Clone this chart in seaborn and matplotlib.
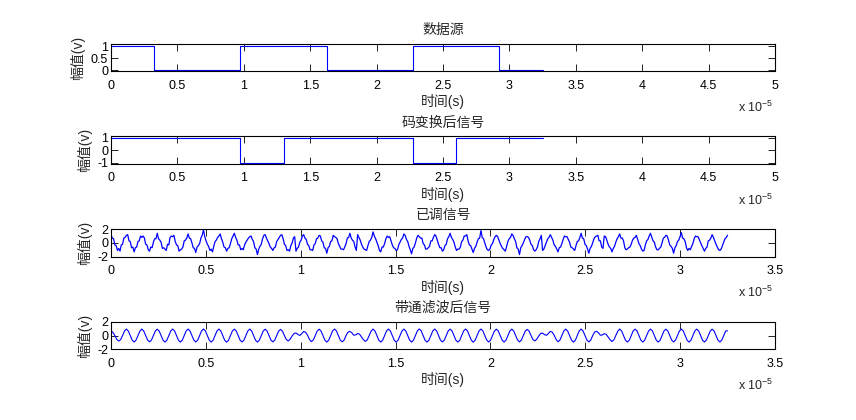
import numpy as np
import matplotlib
matplotlib.use('Agg')
import matplotlib.pyplot as plt
import seaborn as sns
from matplotlib.ticker import FormatStrFormatter

# time axis in units of 1e-5 s
bit_edges = [0, 0.325, 0.65, 0.975, 1.3, 1.625, 1.95, 2.275, 2.6, 2.925, 3.25]
data_bits = [1, 0, 0, 1, 1, 0, 0, 1, 1, 0]
code_bits = [1, 1, 1, -1, 1, 1, 1, -1, 1, 1]

mod_step = 0.0067708   # 12 samples per carrier cycle
filt_step = 0.0101563  # 8 samples per carrier cycle

# modulated signal with noise, one row per carrier cycle
mod_signal = [
    1.2, 0.7, 0.6, -0.3, -0.4, -1.1, -0.8, -1.2, -0.3, -0.2, 0.7, 0.8,
    1.1, 1.2, 0.3, 0.2, -0.7, -0.6, -1.3, -0.7, -0.6, 0.2, 0.3, 1.0,
    0.8, 1.0, 0.7, -0.2, -0.3, -1.0, -1.2, -0.6, -0.7, 0.1, 0.6, 0.6,
    1.4, 0.6, 0.4, 0.1, -0.8, -0.7, -0.9, -1.1, -0.2, -0.3, 0.8, 1.0,
    0.9, 1.1, 0.2, -0.3, -0.4, -1.2, -1.0, -0.9, -0.6, 0.3, 0.4, 0.7,
    1.3, 0.7, 0.6, 0.0, -0.7, -0.8, -1.4, -0.6, -0.4, -0.1, 0.7, 1.1,
    1.9, 0.9, 0.3, -0.2, -0.5, -1.1, -0.9, -1.3, -0.5, 0.2, 0.4, 0.8,
    1.0, 1.3, 0.6, 0.1, -0.6, -0.7, -1.2, -0.8, -0.7, -0.1, 0.6, 1.0,
    1.4, 0.8, 0.4, -0.3, -0.3, -1.0, -0.8, -1.0, -0.3, 0.1, 0.4, 0.7,
    0.9, 1.0, 0.5, 0.2, -0.7, -0.9, -1.7, -0.9, -0.5, -0.2, 0.6, 1.1,
    1.2, 0.7, 0.3, -0.1, -0.6, -0.8, -1.1, -0.7, -0.6, 0.2, 0.5, 0.8,
    1.1, 1.2, 0.6, -0.2, -0.4, -1.1, -1.0, -1.2, -0.4, 0.0, 0.7, 0.9,
    -1.2, -0.8, -0.6, 0.1, 0.4, 1.0, 1.2, 0.7, 0.5, -0.2, -0.4, -1.0,
    -1.0, -1.1, -0.3, -0.1, 0.6, 0.7, 1.1, 1.0, 0.3, 0.1, -0.7, -0.8,
    -1.5, -0.7, -0.5, 0.2, 0.3, 1.1, 0.9, 0.8, 0.6, -0.1, -0.5, -0.9,
    -0.9, -1.0, -0.6, -0.1, 0.7, 0.8, 1.4, 0.7, 0.4, 0.2, -0.6, -1.1,
    1.2, 0.8, 0.4, -0.2, -0.6, -0.9, -1.0, -1.1, -0.4, 0.2, 0.4, 0.8,
    1.6, 1.0, 0.6, 0.1, -0.4, -1.1, -1.3, -0.6, -0.6, -0.1, 0.6, 1.0,
    0.8, 0.9, 0.3, -0.3, -0.7, -0.8, -1.1, -1.0, -0.3, 0.1, 0.5, 0.7,
    1.3, 1.1, 0.5, 0.2, -0.5, -1.0, -1.6, -0.8, -0.6, 0.0, 0.7, 1.1,
    0.9, 0.7, 0.7, -0.1, -0.3, -0.9, -0.9, -0.7, -0.5, 0.3, 0.3, 0.8,
    1.2, 1.0, 0.4, -0.2, -0.7, -0.7, -1.2, -1.0, -0.4, -0.2, 0.6, 0.9,
    1.4, 0.8, 0.5, 0.1, -0.6, -1.1, -0.9, -0.9, -0.6, 0.2, 0.4, 1.0,
    1.0, 1.2, 0.3, -0.3, -0.4, -0.9, -1.4, -0.8, -0.5, 0.1, 0.6, 0.7,
    1.8, 0.8, 0.6, 0.0, -0.6, -1.0, -1.1, -0.9, -0.3, -0.1, 0.5, 0.9,
    1.1, 0.9, 0.4, -0.1, -0.5, -0.8, -1.0, -1.2, -0.5, 0.2, 0.6, 0.8,
    1.3, 1.1, 0.6, 0.2, -0.7, -0.9, -1.7, -0.7, -0.4, 0.0, 0.5, 0.9,
    0.9, 0.8, 0.4, -0.2, -0.4, -1.0, -1.2, -1.0, -0.6, 0.2, 0.6, 1.1,
    -1.1, -0.9, -0.4, 0.1, 0.6, 0.8, 1.2, 0.8, 0.4, -0.3, -0.5, -0.9,
    -1.3, -0.7, -0.6, -0.1, 0.5, 1.0, 0.9, 0.9, 0.5, 0.1, -0.6, -0.7,
    -0.9, -1.1, -0.4, 0.2, 0.3, 0.8, 1.4, 0.7, 0.6, -0.2, -0.4, -0.9,
    -1.5, -0.8, -0.5, 0.0, 0.6, 0.9, 1.0, 1.1, 0.3, 0.3, -0.6, -0.8,
    1.0, 0.9, 0.4, -0.2, -0.6, -0.8, -1.3, -0.8, -0.5, 0.1, 0.6, 0.9,
    1.3, 0.7, 0.7, 0.3, -0.7, -1.0, -0.9, -0.7, -0.6, -0.2, 0.4, 0.7,
    0.8, 1.1, 0.5, -0.1, -0.4, -0.9, -1.2, -1.1, -0.3, 0.3, 0.5, 1.0,
    1.4, 0.8, 0.3, 0.1, -0.6, -1.0, -1.0, -0.8, -0.6, 0.0, 0.7, 0.8,
    1.1, 1.0, 0.4, -0.3, -0.5, -0.8, -1.5, -0.7, -0.4, 0.2, 0.4, 0.9,
    1.5, 0.7, 0.6, 0.2, -0.7, -1.1, -0.8, -1.0, -0.5, -0.1, 0.6, 1.0,
    0.9, 0.9, 0.5, 0.0, -0.4, -0.8, -1.2, -0.8, -0.6, 0.3, 0.4, 0.7,
    1.2, 0.8, 0.3, -0.2, -0.6, -1.0, -1.1, -0.9, -0.4, 0.1, 0.6, 0.8,
    1.1,
]

# band-pass filtered signal, one row per carrier cycle
filt_signal = [
    0.7, 0.45, 0.0, -0.55, -0.8, -0.6, 0.0, 0.65,
    0.95, 0.65, 0.0, -0.65, -0.95, -0.65, 0.0, 0.65,
    0.95, 0.65, 0.0, -0.65, -0.92, -0.65, 0.0, 0.65,
    0.93, 0.65, 0.0, -0.65, -0.95, -0.67, 0.0, 0.66,
    0.95, 0.67, 0.0, -0.67, -0.95, -0.67, 0.0, 0.67,
    0.95, 0.67, 0.0, -0.66, -0.93, -0.66, 0.0, 0.67,
    0.96, 0.68, 0.0, -0.67, -0.95, -0.67, 0.0, 0.67,
    0.95, 0.67, 0.0, -0.67, -0.96, -0.68, 0.0, 0.67,
    0.94, 0.66, 0.0, -0.66, -0.94, -0.66, 0.0, 0.66,
    0.95, 0.67, 0.0, -0.67, -0.95, -0.67, 0.0, 0.66,
    0.93, 0.66, 0.0, -0.65, -0.92, -0.65, 0.0, 0.65,
    0.9, 0.63, 0.0, -0.58, -0.78, -0.52, -0.05, 0.3,
    0.38, 0.15, 0.02, 0.28, 0.6, 0.48, 0.05, -0.55,
    -0.88, -0.64, 0.0, 0.65, 0.93, 0.66, 0.0, -0.66,
    -0.95, -0.67, 0.0, 0.67, 0.95, 0.67, 0.0, -0.66,
    -0.92, -0.65, 0.0, 0.5, 0.6, 0.4, 0.05, 0.1,
    0.3, 0.2, -0.2, -0.6, -0.85, -0.62, 0.0, 0.64,
    0.95, 0.67, 0.0, -0.67, -0.95, -0.67, 0.0, 0.67,
    0.95, 0.67, 0.0, -0.67, -0.94, -0.66, 0.0, 0.66,
    0.94, 0.66, 0.0, -0.67, -0.95, -0.67, 0.0, 0.67,
    0.96, 0.68, 0.0, -0.67, -0.95, -0.67, 0.0, 0.67,
    0.95, 0.67, 0.0, -0.66, -0.93, -0.66, 0.0, 0.66,
    0.94, 0.67, 0.0, -0.67, -0.95, -0.67, 0.0, 0.67,
    0.95, 0.67, 0.0, -0.67, -0.96, -0.68, 0.0, 0.67,
    0.95, 0.67, 0.0, -0.66, -0.94, -0.66, 0.0, 0.66,
    0.93, 0.66, 0.0, -0.66, -0.94, -0.66, 0.0, 0.66,
    0.94, 0.66, 0.0, -0.65, -0.93, -0.65, 0.0, 0.65,
    0.9, 0.63, 0.0, -0.58, -0.78, -0.52, -0.05, 0.3,
    0.36, 0.14, 0.03, 0.3, 0.62, 0.5, 0.05, -0.56,
    -0.9, -0.65, 0.0, 0.66, 0.94, 0.66, 0.0, -0.66,
    -0.95, -0.67, 0.0, 0.67, 0.95, 0.67, 0.0, -0.66,
    -0.92, -0.65, 0.0, 0.5, 0.62, 0.4, 0.05, 0.08,
    0.28, 0.18, -0.2, -0.6, -0.86, -0.62, 0.0, 0.64,
    0.95, 0.67, 0.0, -0.67, -0.95, -0.67, 0.0, 0.67,
    0.94, 0.66, 0.0, -0.66, -0.94, -0.66, 0.0, 0.66,
    0.95, 0.67, 0.0, -0.67, -0.95, -0.67, 0.0, 0.67,
    0.93, 0.66, 0.0, -0.66, -0.93, -0.66, 0.0, 0.66,
    0.95, 0.67, 0.0, -0.67, -0.95, -0.67, 0.0, 0.67,
    0.94, 0.66, 0.0, -0.66, -0.94, -0.66, 0.0, 0.66,
    0.93, 0.65, 0.0, -0.65, -0.93, -0.65, 0.0, 0.65,
    0.7,
]

titles = ['数据源', '码变换后信号', '已调信号', '带通滤波后信号']
xlabel = '时间(s)'
ylabel = '幅值(v)'
x_ticks_long = [0, 0.5, 1, 1.5, 2, 2.5, 3, 3.5, 4, 4.5, 5]
x_ticks_short = [0, 0.5, 1, 1.5, 2, 2.5, 3, 3.5]

sns.set_style('white')
plt.rcParams['font.family'] = ['Liberation Sans', 'Noto Sans CJK SC']
plt.rcParams['axes.unicode_minus'] = False
plt.rcParams['mathtext.fontset'] = 'custom'
plt.rcParams['mathtext.rm'] = 'Liberation Sans'
plt.rcParams['mathtext.default'] = 'regular'

fig = plt.figure(figsize=(8.56, 4.2), dpi=100)
fig.patch.set_facecolor('white')

left, width, height = 111 / 856, 664 / 856, 27.5 / 420
axes = []
for i in range(4):
    bottom_px = 71.3 + 92.67 * i
    axes.append(fig.add_axes([left, 1 - bottom_px / 420, width, height]))

t_mod = np.arange(len(mod_signal)) * mod_step
t_filt = np.arange(len(filt_signal)) * filt_step

sns.lineplot(x=bit_edges, y=data_bits + [data_bits[-1]], ax=axes[0],
             color='blue', lw=0.8, drawstyle='steps-post', estimator=None)
sns.lineplot(x=bit_edges, y=code_bits + [code_bits[-1]], ax=axes[1],
             color='blue', lw=0.8, drawstyle='steps-post', estimator=None)
sns.lineplot(x=t_mod, y=mod_signal, ax=axes[2], color='blue', lw=0.9,
             estimator=None)
sns.lineplot(x=t_filt, y=filt_signal, ax=axes[3], color='blue', lw=0.8,
             estimator=None)

ylims = [(-0.05, 1.1), (-1.1, 1.1), (-2, 2), (-2, 2)]
yticks = [[0, 0.5, 1], [-1, 0, 1], [-2, 0, 2], [-2, 0, 2]]

for i, ax in enumerate(axes):
    ax.set_facecolor('white')
    if i < 2:
        ax.set_xlim(0, 5)
        ax.set_xticks(x_ticks_long)
    else:
        ax.set_xlim(0, 3.5)
        ax.set_xticks(x_ticks_short)
    ax.set_ylim(*ylims[i])
    ax.set_yticks(yticks[i])
    ax.xaxis.set_major_formatter(FormatStrFormatter('%g'))
    ax.yaxis.set_major_formatter(FormatStrFormatter('%g'))
    ax.tick_params(direction='in', length=4.75, width=0.6, color='black',
                   top=True, right=True, bottom=True, left=True,
                   labelsize=9, labelcolor='black')
    ax.tick_params(axis='x', pad=6)
    ax.tick_params(axis='y', pad=2)
    for sp in ax.spines.values():
        sp.set_visible(True)
        sp.set_color('black')
        sp.set_linewidth(0.8)
    ax.set_title(titles[i], fontsize=10, pad=7)
    ax.set_xlabel(xlabel, fontsize=10, labelpad=2)
    ax.set_ylabel(ylabel, fontsize=10, labelpad=4)
    ax.annotate('x 10$^{-5}$', xy=(1, 0), xycoords='axes fraction',
                xytext=(-2, -36), textcoords='offset pixels',
                ha='right', va='center', fontsize=9)

fig.savefig('out.png', dpi=100, facecolor='white')
